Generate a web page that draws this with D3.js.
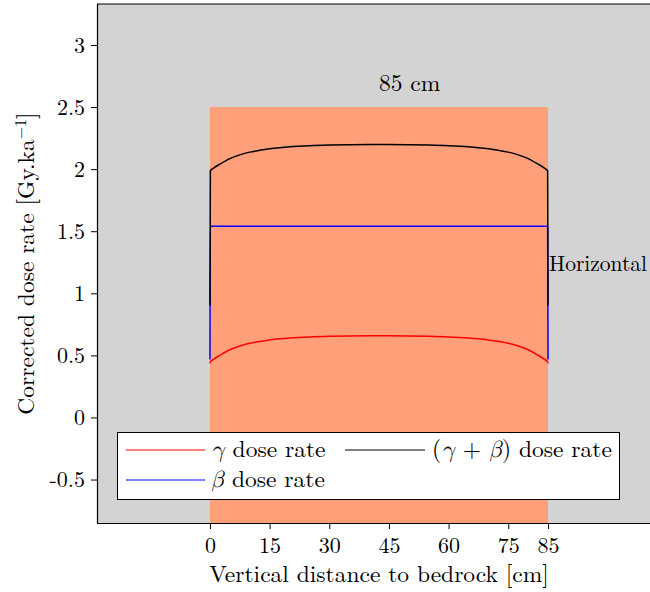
<!DOCTYPE html>
<html>
<head>
<meta charset="utf-8">
<script src="https://cdn.jsdelivr.net/npm/d3@7"></script>
<style>
  html, body { margin: 0; padding: 0; background: #ffffff; }
  svg { display: block; }
</style>
</head>
<body>
<svg id="chart" width="650" height="592"></svg>
<script>
// Vertical profile positions (cm above bedrock)
const depth = [0, 0.1, 1, 2.5, 5, 7.5, 10, 12.5, 15, 17.5, 20, 25, 30, 35, 42.5,
               50, 55, 60, 65, 67.5, 70, 72.5, 75, 77.5, 80, 82.5, 84, 84.9, 85];
// Gamma dose rate (Gy/ka)
const gammaRate = [0.435, 0.447, 0.47, 0.50, 0.545, 0.575, 0.597, 0.612, 0.624, 0.633, 0.640, 0.649, 0.654, 0.657, 0.659,
                   0.657, 0.654, 0.649, 0.640, 0.633, 0.624, 0.612, 0.597, 0.575, 0.545, 0.50, 0.47, 0.447, 0.435];
// Beta dose rate (Gy/ka)
const betaRate = [0.467, 1.54, 1.54, 1.54, 1.54, 1.54, 1.54, 1.54, 1.54, 1.54, 1.54, 1.54, 1.54, 1.54, 1.54,
                  1.54, 1.54, 1.54, 1.54, 1.54, 1.54, 1.54, 1.54, 1.54, 1.54, 1.54, 1.54, 1.54, 0.467];
// Total (gamma + beta) dose rate (Gy/ka)
const totalRate = [0.902, 1.987, 2.01, 2.04, 2.085, 2.115, 2.137, 2.152, 2.164, 2.173, 2.18, 2.189, 2.194, 2.197, 2.199,
                   2.197, 2.194, 2.189, 2.18, 2.173, 2.164, 2.152, 2.137, 2.115, 2.085, 2.04, 2.01, 1.987, 0.902];

const xTicks = [0, 15, 30, 45, 60, 75, 85];
const yTicks = [-0.5, 0, 0.5, 1, 1.5, 2, 2.5, 3];
const layer = { x0: 0, x1: 85, top: 2.5 };
const layerLabel = "85 cm";
const orientationLabel = "Horizontal";

const FONT = "'Latin Modern Roman', 'Liberation Serif', serif";
const MATH = "'Latin Modern Math', 'Latin Modern Roman', 'DejaVu Serif', serif";

const svg = d3.select("#chart");
const plot = { left: 97, right: 661, top: 4, bottom: 523 };

const x = d3.scaleLinear().domain([-28.4, 113.4]).range([plot.left, plot.right]);
const y = d3.scaleLinear().domain([-0.85, 3.33]).range([plot.bottom, plot.top]);

// Axes background
svg.append("rect")
  .attr("x", plot.left).attr("y", plot.top)
  .attr("width", plot.right - plot.left).attr("height", plot.bottom - plot.top)
  .attr("fill", "#d3d3d3");

// Sediment layer
svg.append("rect")
  .attr("x", x(layer.x0)).attr("y", y(layer.top))
  .attr("width", x(layer.x1) - x(layer.x0))
  .attr("height", y.range()[0] - y(layer.top))
  .attr("fill", "#ffa07a");

const line = vals => d3.line()
  .curve(d3.curveMonotoneX)
  .x((d, i) => x(depth[i]))
  .y(d => y(d))(vals);

const series = [
  { vals: gammaRate, color: "red" },
  { vals: betaRate, color: "blue" },
  { vals: totalRate, color: "black" }
];
series.forEach(s => {
  svg.append("path")
    .attr("d", line(s.vals))
    .attr("fill", "none")
    .attr("stroke", s.color)
    .attr("stroke-width", 1.5)
    .attr("stroke-linejoin", "round");
});

const txt = (sel, size) => sel.style("font-family", FONT).style("font-size", size + "px").style("fill", "#000");

// Annotations
txt(svg.append("text"), 23.5)
  .attr("x", x(42.5)).attr("y", y(2.63))
  .text(layerLabel);

txt(svg.append("text"), 21.5)
  .attr("x", x(85) + 1).attr("y", y(1.18))
  .text(orientationLabel);

// Top spine
svg.append("line").attr("x1", plot.left).attr("x2", plot.right)
  .attr("y1", plot.top).attr("y2", plot.top)
  .attr("stroke", "#000").attr("stroke-width", 1.2);

// Axes
const xAxis = svg.append("g")
  .attr("transform", `translate(0,${plot.bottom})`)
  .call(d3.axisBottom(x).tickValues(xTicks).tickSize(6).tickPadding(8).tickFormat(d3.format("d")));
const yAxis = svg.append("g")
  .attr("transform", `translate(${plot.left},0)`)
  .call(d3.axisLeft(y).tickValues(yTicks).tickSize(6).tickPadding(6)
    .tickFormat(d => d < 0 ? "-" + Math.abs(d) : String(d)));

[xAxis, yAxis].forEach(g => {
  g.select(".domain").attr("stroke", "#000").attr("stroke-width", 1.2);
  g.selectAll(".tick line").attr("stroke", "#000").attr("stroke-width", 1);
  txt(g.selectAll(".tick text"), 22);
});
xAxis.select(".domain").attr("d", `M${plot.left},0.5H${plot.right}`);
yAxis.select(".domain").attr("d", `M0.5,${plot.top}V${plot.bottom}`);

// Axis titles
txt(svg.append("text"), 23.5)
  .attr("x", (plot.left + plot.right) / 2).attr("y", 582)
  .attr("text-anchor", "middle")
  .text("Vertical distance to bedrock [cm]");

const yl = txt(svg.append("text"), 23.5)
  .attr("transform", `translate(34,${(plot.top + plot.bottom) / 2}) rotate(-90)`)
  .attr("text-anchor", "middle");
yl.append("tspan").text("Corrected dose rate [Gy.ka");
yl.append("tspan").attr("dy", -8).style("font-size", "16px").text("−1");
yl.append("tspan").attr("dy", 8).text("]");

// Legend
const lg = svg.append("g");
lg.append("rect")
  .attr("x", 117.5).attr("y", 432.5).attr("width", 502).attr("height", 67)
  .attr("fill", "#fff").attr("stroke", "#000").attr("stroke-width", 1);

const legendItems = [
  { color: "red", x1: 126, x2: 205, ly: 450, tx: 211, ty: 457, parts: [["γ", true], [" dose rate", false]] },
  { color: "blue", x1: 126, x2: 205, ly: 480, tx: 211, ty: 487, parts: [["β", true], [" dose rate", false]] },
  { color: "black", x1: 345, x2: 425, ly: 450, tx: 432, ty: 457,
    parts: [["(", false], ["γ", true], [" + ", false], ["β", true], [") dose rate", false]] }
];
legendItems.forEach(it => {
  lg.append("line").attr("x1", it.x1).attr("x2", it.x2)
    .attr("y1", it.ly).attr("y2", it.ly)
    .attr("stroke", it.color).attr("stroke-width", 1.2);
  const t = txt(lg.append("text"), 23.5).attr("x", it.tx).attr("y", it.ty)
    .style("white-space", "pre");
  it.parts.forEach(([s, ital]) => {
    const sp = t.append("tspan").text(s);
    if (ital) sp.style("font-family", MATH).style("font-style", "italic");
  });
});
</script>
</body>
</html>
